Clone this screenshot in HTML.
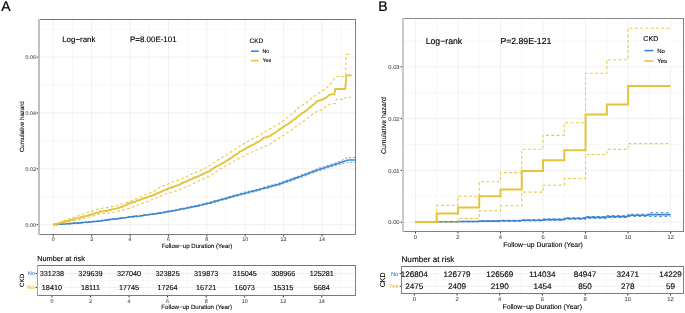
<!DOCTYPE html>
<html><head><meta charset="utf-8"><title>Cumulative hazard</title>
<style>
html,body{margin:0;padding:0;background:#fff;}
body{width:685px;height:313px;overflow:hidden;}
svg{display:block;will-change:transform;font-family:"Liberation Sans", sans-serif;text-rendering:geometricPrecision;}
</style></head><body>
<svg width="685" height="313" viewBox="0 0 685 313">
<rect width="685" height="313" fill="#fff"/>
<line x1="72.49" y1="19.5" x2="72.49" y2="234.5" stroke="#efefef" stroke-width="0.5"/>
<line x1="110.87" y1="19.5" x2="110.87" y2="234.5" stroke="#efefef" stroke-width="0.5"/>
<line x1="149.25" y1="19.5" x2="149.25" y2="234.5" stroke="#efefef" stroke-width="0.5"/>
<line x1="187.63" y1="19.5" x2="187.63" y2="234.5" stroke="#efefef" stroke-width="0.5"/>
<line x1="226.01" y1="19.5" x2="226.01" y2="234.5" stroke="#efefef" stroke-width="0.5"/>
<line x1="264.39" y1="19.5" x2="264.39" y2="234.5" stroke="#efefef" stroke-width="0.5"/>
<line x1="302.77" y1="19.5" x2="302.77" y2="234.5" stroke="#efefef" stroke-width="0.5"/>
<line x1="341.15" y1="19.5" x2="341.15" y2="234.5" stroke="#efefef" stroke-width="0.5"/>
<line x1="39.0" y1="196.77" x2="355.0" y2="196.77" stroke="#efefef" stroke-width="0.5"/>
<line x1="39.0" y1="140.91" x2="355.0" y2="140.91" stroke="#efefef" stroke-width="0.5"/>
<line x1="39.0" y1="85.05" x2="355.0" y2="85.05" stroke="#efefef" stroke-width="0.5"/>
<line x1="39.0" y1="29.19" x2="355.0" y2="29.19" stroke="#efefef" stroke-width="0.5"/>
<line x1="53.30" y1="19.5" x2="53.30" y2="234.5" stroke="#efefef" stroke-width="1"/>
<line x1="91.68" y1="19.5" x2="91.68" y2="234.5" stroke="#efefef" stroke-width="1"/>
<line x1="130.06" y1="19.5" x2="130.06" y2="234.5" stroke="#efefef" stroke-width="1"/>
<line x1="168.44" y1="19.5" x2="168.44" y2="234.5" stroke="#efefef" stroke-width="1"/>
<line x1="206.82" y1="19.5" x2="206.82" y2="234.5" stroke="#efefef" stroke-width="1"/>
<line x1="245.20" y1="19.5" x2="245.20" y2="234.5" stroke="#efefef" stroke-width="1"/>
<line x1="283.58" y1="19.5" x2="283.58" y2="234.5" stroke="#efefef" stroke-width="1"/>
<line x1="321.96" y1="19.5" x2="321.96" y2="234.5" stroke="#efefef" stroke-width="1"/>
<line x1="39.0" y1="224.70" x2="355.0" y2="224.70" stroke="#efefef" stroke-width="1"/>
<line x1="39.0" y1="168.84" x2="355.0" y2="168.84" stroke="#efefef" stroke-width="1"/>
<line x1="39.0" y1="112.98" x2="355.0" y2="112.98" stroke="#efefef" stroke-width="1"/>
<line x1="39.0" y1="57.12" x2="355.0" y2="57.12" stroke="#efefef" stroke-width="1"/>
<g fill="none" stroke-linejoin="miter">
<path d="M53.30,224.60 L54.80,224.50 L56.30,224.66 L57.80,224.08 L59.30,224.46 L60.80,223.97 L62.30,223.93 L63.80,224.07 L65.30,223.72 L66.80,223.70 L68.30,223.28 L69.80,223.61 L71.30,223.36 L72.80,223.11 L74.30,223.26 L75.80,222.85 L77.30,222.81 L78.80,222.50 L80.30,222.53 L81.80,222.29 L83.30,222.20 L84.80,222.37 L86.30,221.94 L87.80,221.90 L89.30,222.05 L90.80,221.88 L92.30,221.58 L93.80,221.32 L95.30,221.01 L96.80,220.78 L98.30,221.11 L99.80,220.69 L101.30,220.25 L102.80,220.35 L104.30,220.24 L105.80,219.94 L107.30,219.92 L108.80,219.19 L110.30,219.28 L111.80,219.04 L113.30,218.60 L114.80,218.74 L116.30,218.66 L117.80,218.31 L119.30,217.90 L120.80,218.05 L122.30,217.65 L123.80,217.45 L125.30,217.39 L126.80,216.86 L128.30,217.09 L129.80,216.83 L131.30,216.72 L132.80,216.18 L134.30,216.38 L135.80,215.83 L137.30,215.59 L138.80,215.88 L140.30,215.70 L141.80,215.50 L143.30,215.04 L144.80,214.70 L146.30,214.33 L147.80,214.49 L149.30,214.32 L150.80,214.18 L152.30,213.63 L153.80,213.37 L155.30,213.41 L156.80,213.29 L158.30,213.17 L159.80,212.47 L161.30,212.39 L162.80,212.35 L164.30,211.79 L165.80,211.60 L167.30,210.98 L168.80,211.08 L170.30,210.94 L171.80,210.60 L173.30,210.35 L174.80,209.93 L176.30,209.40 L177.80,209.43 L179.30,208.81 L180.80,208.88 L182.30,208.12 L183.80,208.27 L185.30,207.56 L186.80,207.38 L188.30,207.04 L189.80,206.96 L191.30,206.34 L192.80,206.16 L194.30,205.62 L195.80,205.47 L197.30,205.26 L198.80,204.76 L200.30,204.75 L201.80,204.19 L203.30,203.99 L204.80,203.55 L206.30,203.01 L207.80,202.86 L209.30,202.32 L210.80,202.02 L212.30,201.33 L213.80,201.05 L215.30,200.44 L216.80,200.51 L218.30,199.65 L219.80,199.26 L221.30,198.72 L222.80,198.39 L224.30,198.26 L225.80,197.79 L227.30,197.01 L228.80,196.72 L230.30,196.32 L231.80,196.03 L233.30,195.47 L234.80,195.11 L236.30,194.83 L237.80,194.32 L239.30,193.67 L240.80,193.31 L242.30,192.87 L243.80,192.33 L245.30,191.99 L246.80,191.65 L248.30,191.28 L249.80,190.89 L251.30,190.65 L252.80,190.50 L254.30,189.99 L255.80,189.61 L257.30,189.20 L258.80,188.71 L260.30,188.51 L261.80,187.95 L263.30,187.42 L264.80,186.74 L266.30,186.57 L267.80,185.98 L269.30,185.51 L270.80,185.32 L272.30,185.06 L273.80,184.35 L275.30,184.21 L276.80,183.65 L278.30,183.00 L279.80,183.07 L281.30,182.19 L282.80,181.57 L284.30,181.35 L285.80,180.36 L287.30,180.17 L288.80,179.29 L290.30,178.85 L291.80,178.20 L293.30,178.01 L294.80,177.18 L296.30,176.98 L297.80,176.21 L299.30,175.70 L300.80,175.03 L302.30,174.34 L303.80,173.83 L305.30,173.60 L306.80,172.59 L308.30,172.50 L309.80,171.80 L311.30,170.99 L312.80,170.60 L314.30,169.88 L315.80,169.32 L317.30,168.83 L318.80,167.97 L320.30,167.71 L321.80,167.52 L323.30,166.62 L324.80,166.42 L326.30,165.79 L327.80,165.31 L329.30,164.83 L330.80,164.35 L332.30,163.87 L333.80,163.39 L335.30,162.91 L336.80,162.43 L338.30,161.94 L339.80,161.46 L341.30,160.71 L342.80,159.91 L344.30,159.11 L345.80,158.31 L347.30,157.51 L348.80,157.40 L350.30,157.40 L351.80,157.40 L353.30,157.40 L354.80,157.40 L355.00,157.40" stroke="#3C84CD" stroke-width="0.9" stroke-dasharray="2.2 1.8" opacity="0.85"/>
<path d="M53.30,224.80 L54.80,224.56 L56.30,224.49 L57.80,224.71 L59.30,224.18 L60.80,224.39 L62.30,224.37 L63.80,223.95 L65.30,223.78 L66.80,223.82 L68.30,223.95 L69.80,223.80 L71.30,223.44 L72.80,223.50 L74.30,223.52 L75.80,223.26 L77.30,223.27 L78.80,223.36 L80.30,223.07 L81.80,222.78 L83.30,222.54 L84.80,222.52 L86.30,222.48 L87.80,222.56 L89.30,222.35 L90.80,221.93 L92.30,222.15 L93.80,221.73 L95.30,221.72 L96.80,221.22 L98.30,221.07 L99.80,220.99 L101.30,221.21 L102.80,220.89 L104.30,220.80 L105.80,220.48 L107.30,220.15 L108.80,220.02 L110.30,219.87 L111.80,219.84 L113.30,219.39 L114.80,219.47 L116.30,219.11 L117.80,219.05 L119.30,218.66 L120.80,218.58 L122.30,218.17 L123.80,218.09 L125.30,217.72 L126.80,217.48 L128.30,217.28 L129.80,217.51 L131.30,217.20 L132.80,217.30 L134.30,217.10 L135.80,216.66 L137.30,216.85 L138.80,216.46 L140.30,216.39 L141.80,215.97 L143.30,215.64 L144.80,215.42 L146.30,215.22 L147.80,215.27 L149.30,214.77 L150.80,214.51 L152.30,214.80 L153.80,214.15 L155.30,214.16 L156.80,213.98 L158.30,213.85 L159.80,213.58 L161.30,213.58 L162.80,213.20 L164.30,212.82 L165.80,212.58 L167.30,212.24 L168.80,212.24 L170.30,211.53 L171.80,211.54 L173.30,211.19 L174.80,210.61 L176.30,210.49 L177.80,210.60 L179.30,210.25 L180.80,209.50 L182.30,209.38 L183.80,208.91 L185.30,209.11 L186.80,208.39 L188.30,208.07 L189.80,208.33 L191.30,207.71 L192.80,207.35 L194.30,206.89 L195.80,206.80 L197.30,206.50 L198.80,206.30 L200.30,205.68 L201.80,205.37 L203.30,205.02 L204.80,204.77 L206.30,204.29 L207.80,204.09 L209.30,203.50 L210.80,203.49 L212.30,203.13 L213.80,202.20 L215.30,201.90 L216.80,201.72 L218.30,201.45 L219.80,200.64 L221.30,200.30 L222.80,200.04 L224.30,199.75 L225.80,199.47 L227.30,199.03 L228.80,198.56 L230.30,197.70 L231.80,197.83 L233.30,197.19 L234.80,196.46 L236.30,196.14 L237.80,195.94 L239.30,195.38 L240.80,195.02 L242.30,194.86 L243.80,194.50 L245.30,193.95 L246.80,193.73 L248.30,193.12 L249.80,193.09 L251.30,192.49 L252.80,192.33 L254.30,191.41 L255.80,191.53 L257.30,190.97 L258.80,190.68 L260.30,189.99 L261.80,189.80 L263.30,189.24 L264.80,188.73 L266.30,188.26 L267.80,188.40 L269.30,187.85 L270.80,187.17 L272.30,186.80 L273.80,186.52 L275.30,186.32 L276.80,185.50 L278.30,185.61 L279.80,185.19 L281.30,184.25 L282.80,183.94 L284.30,183.24 L285.80,182.90 L287.30,181.99 L288.80,181.69 L290.30,181.22 L291.80,180.70 L293.30,180.20 L294.80,179.78 L296.30,178.85 L297.80,178.26 L299.30,177.86 L300.80,177.43 L302.30,177.12 L303.80,176.42 L305.30,175.89 L306.80,175.48 L308.30,174.51 L309.80,173.96 L311.30,173.51 L312.80,172.89 L314.30,172.56 L315.80,172.19 L317.30,171.16 L318.80,170.84 L320.30,170.40 L321.80,169.83 L323.30,169.62 L324.80,169.05 L326.30,168.44 L327.80,167.98 L329.30,167.51 L330.80,167.05 L332.30,166.58 L333.80,166.12 L335.30,165.65 L336.80,165.19 L338.30,164.73 L339.80,164.26 L341.30,163.87 L342.80,163.49 L344.30,163.11 L345.80,162.73 L347.30,162.35 L348.80,162.30 L350.30,162.30 L351.80,162.30 L353.30,162.30 L354.80,162.30 L355.00,162.30" stroke="#3C84CD" stroke-width="0.9" stroke-dasharray="2.2 1.8" opacity="0.85"/>
<path d="M53.30,224.70 L54.30,224.39 L55.30,224.41 L56.30,224.68 L57.30,224.49 L58.30,224.13 L59.30,224.26 L60.30,224.23 L61.30,223.97 L62.30,224.25 L63.30,223.81 L64.30,223.91 L65.30,223.92 L66.30,223.80 L67.30,223.83 L68.30,223.85 L69.30,223.92 L70.30,223.45 L71.30,223.59 L72.30,223.53 L73.30,223.21 L74.30,222.96 L75.30,223.46 L76.30,222.98 L77.30,222.90 L78.30,223.17 L79.30,222.91 L80.30,222.76 L81.30,222.86 L82.30,222.33 L83.30,222.66 L84.30,222.38 L85.30,222.12 L86.30,222.37 L87.30,222.43 L88.30,221.89 L89.30,222.05 L90.30,221.75 L91.30,221.92 L92.30,221.80 L93.30,221.40 L94.30,221.67 L95.30,221.46 L96.30,221.38 L97.30,221.36 L98.30,221.03 L99.30,221.13 L100.30,221.09 L101.30,220.49 L102.30,220.81 L103.30,220.40 L104.30,220.32 L105.30,219.99 L106.30,220.19 L107.30,219.81 L108.30,220.03 L109.30,219.54 L110.30,219.58 L111.30,219.35 L112.30,219.34 L113.30,218.96 L114.30,218.82 L115.30,219.03 L116.30,218.90 L117.30,218.66 L118.30,218.74 L119.30,218.18 L120.30,218.43 L121.30,217.89 L122.30,218.24 L123.30,217.90 L124.30,217.76 L125.30,217.85 L126.30,217.62 L127.30,217.51 L128.30,216.96 L129.30,217.03 L130.30,216.75 L131.30,216.70 L132.30,216.60 L133.30,216.87 L134.30,216.32 L135.30,216.31 L136.30,216.32 L137.30,216.42 L138.30,216.37 L139.30,216.10 L140.30,215.69 L141.30,215.74 L142.30,215.70 L143.30,215.17 L144.30,215.41 L145.30,215.08 L146.30,215.07 L147.30,214.98 L148.30,214.84 L149.30,214.61 L150.30,214.49 L151.30,214.14 L152.30,214.18 L153.30,213.81 L154.30,213.89 L155.30,213.78 L156.30,213.78 L157.30,213.41 L158.30,213.05 L159.30,213.21 L160.30,212.87 L161.30,213.00 L162.30,212.61 L163.30,212.42 L164.30,212.55 L165.30,212.06 L166.30,211.84 L167.30,211.66 L168.30,211.55 L169.30,211.14 L170.30,211.22 L171.30,211.26 L172.30,210.86 L173.30,210.79 L174.30,210.72 L175.30,210.47 L176.30,210.23 L177.30,210.09 L178.30,209.91 L179.30,209.38 L180.30,209.33 L181.30,209.05 L182.30,208.80 L183.30,208.78 L184.30,208.43 L185.30,208.41 L186.30,208.19 L187.30,207.70 L188.30,207.71 L189.30,207.47 L190.30,207.46 L191.30,206.89 L192.30,206.74 L193.30,206.75 L194.30,206.48 L195.30,206.44 L196.30,206.04 L197.30,205.76 L198.30,206.00 L199.30,205.39 L200.30,205.11 L201.30,204.92 L202.30,204.69 L203.30,204.36 L204.30,204.28 L205.30,204.26 L206.30,203.51 L207.30,203.41 L208.30,203.30 L209.30,203.17 L210.30,202.97 L211.30,202.19 L212.30,202.16 L213.30,202.10 L214.30,201.34 L215.30,201.40 L216.30,200.88 L217.30,200.98 L218.30,200.81 L219.30,200.31 L220.30,199.72 L221.30,199.47 L222.30,199.39 L223.30,199.37 L224.30,198.72 L225.30,198.69 L226.30,198.25 L227.30,197.88 L228.30,197.86 L229.30,197.33 L230.30,197.09 L231.30,197.04 L232.30,196.59 L233.30,196.48 L234.30,196.03 L235.30,195.54 L236.30,195.42 L237.30,195.39 L238.30,194.92 L239.30,194.88 L240.30,194.02 L241.30,193.97 L242.30,193.97 L243.30,193.67 L244.30,193.34 L245.30,193.15 L246.30,193.02 L247.30,192.65 L248.30,192.31 L249.30,192.07 L250.30,191.87 L251.30,191.41 L252.30,191.37 L253.30,191.08 L254.30,190.93 L255.30,190.49 L256.30,189.96 L257.30,190.01 L258.30,189.95 L259.30,189.56 L260.30,189.30 L261.30,188.88 L262.30,188.58 L263.30,188.52 L264.30,187.86 L265.30,188.06 L266.30,187.79 L267.30,187.57 L268.30,186.80 L269.30,186.51 L270.30,186.70 L271.30,186.13 L272.30,185.78 L273.30,185.57 L274.30,185.46 L275.30,184.89 L276.30,184.81 L277.30,184.64 L278.30,184.40 L279.30,183.70 L280.30,183.88 L281.30,183.29 L282.30,182.92 L283.30,182.63 L284.30,182.10 L285.30,182.10 L286.30,181.33 L287.30,181.16 L288.30,180.57 L289.30,180.48 L290.30,180.28 L291.30,179.91 L292.30,179.09 L293.30,179.02 L294.30,178.82 L295.30,178.04 L296.30,177.80 L297.30,177.61 L298.30,177.26 L299.30,176.73 L300.30,176.47 L301.30,176.12 L302.30,175.56 L303.30,175.37 L304.30,174.96 L305.30,174.66 L306.30,174.18 L307.30,173.70 L308.30,173.39 L309.30,173.31 L310.30,172.50 L311.30,172.11 L312.30,171.66 L313.30,171.79 L314.30,171.50 L315.30,170.68 L316.30,170.33 L317.30,169.92 L318.30,169.79 L319.30,169.35 L320.30,169.20 L321.30,168.52 L322.30,168.60 L323.30,168.04 L324.30,167.93 L325.30,167.61 L326.30,167.12 L327.30,166.80 L328.30,166.49 L329.30,166.17 L330.30,165.86 L331.30,165.54 L332.30,165.23 L333.30,164.91 L334.30,164.60 L335.30,164.28 L336.30,163.97 L337.30,163.65 L338.30,163.34 L339.30,163.02 L340.30,162.69 L341.30,162.33 L342.30,161.97 L343.30,161.61 L344.30,161.25 L345.30,160.89 L346.30,160.53 L347.30,160.17 L348.30,160.10 L349.30,160.10 L350.30,160.10 L351.30,160.10 L352.30,160.10 L353.30,160.10 L354.30,160.10 L355.00,160.10" stroke="#3C84CD" stroke-width="1.5"/>
<path d="M53.30,224.70 L54.30,224.51 L55.30,223.96 L56.30,223.78 L57.30,223.05 L58.30,222.89 L59.30,222.42 L60.30,222.22 L61.30,221.60 L62.30,221.51 L63.30,221.01 L64.30,220.78 L65.30,220.24 L66.30,219.85 L67.30,219.62 L68.30,219.32 L69.30,218.71 L70.30,218.59 L71.30,218.25 L72.30,217.62 L73.30,217.47 L74.30,217.18 L75.30,216.95 L76.30,216.51 L77.30,215.97 L78.30,215.79 L79.30,215.46 L80.30,215.14 L81.30,214.99 L82.30,214.42 L83.30,214.04 L84.30,213.84 L85.30,213.55 L86.30,213.33 L87.30,212.85 L88.30,212.39 L89.30,212.31 L90.30,211.79 L91.30,211.53 L92.30,211.11 L93.30,210.66 L94.30,210.52 L95.30,210.21 L96.30,209.63 L97.30,209.40 L98.30,209.02 L99.30,208.61 L100.30,208.34 L101.30,208.49 L102.30,208.31 L103.30,207.96 L104.30,207.95 L105.30,207.52 L106.30,207.72 L107.30,207.42 L108.30,207.38 L109.30,207.02 L110.30,206.88 L111.30,206.64 L112.30,206.66 L113.30,206.21 L114.30,206.01 L115.30,205.96 L116.30,205.71 L117.30,205.28 L118.30,205.01 L119.30,204.98 L120.30,204.44 L121.30,204.21 L122.30,204.07 L123.30,203.75 L124.30,203.13 L125.30,202.73 L126.30,202.67 L127.30,202.27 L128.30,201.77 L129.30,201.54 L130.30,201.00 L131.30,200.82 L132.30,200.32 L133.30,199.96 L134.30,199.29 L135.30,199.08 L136.30,198.54 L137.30,198.16 L138.30,197.67 L139.30,197.35 L140.30,196.91 L141.30,196.52 L142.30,195.89 L143.30,195.55 L144.30,195.08 L145.30,194.80 L146.30,194.43 L147.30,193.88 L148.30,193.69 L149.30,193.21 L150.30,192.81 L151.30,192.44 L152.30,192.17 L153.30,191.63 L154.30,191.02 L155.30,190.54 L156.30,190.04 L157.30,189.17 L158.30,188.63 L159.30,187.81 L160.30,187.12 L161.30,186.84 L162.30,186.18 L163.30,185.79 L164.30,185.37 L165.30,184.99 L166.30,184.75 L167.30,184.29 L168.30,183.86 L169.30,183.35 L170.30,182.70 L171.30,182.46 L172.30,182.20 L173.30,182.00 L174.30,181.44 L175.30,181.17 L176.30,180.93 L177.30,180.38 L178.30,180.19 L179.30,179.78 L180.30,179.38 L181.30,178.97 L182.30,178.46 L183.30,177.86 L184.30,177.72 L185.30,177.30 L186.30,176.80 L187.30,176.16 L188.30,175.82 L189.30,175.42 L190.30,174.69 L191.30,174.54 L192.30,173.82 L193.30,173.72 L194.30,173.00 L195.30,172.85 L196.30,172.12 L197.30,171.80 L198.30,171.48 L199.30,171.10 L200.30,170.52 L201.30,170.04 L202.30,169.34 L203.30,168.95 L204.30,168.27 L205.30,167.96 L206.30,167.37 L207.30,166.68 L208.30,166.31 L209.30,165.50 L210.30,165.28 L211.30,164.53 L212.30,163.74 L213.30,163.21 L214.30,162.62 L215.30,161.91 L216.30,161.36 L217.30,160.52 L218.30,159.83 L219.30,159.20 L220.30,158.53 L221.30,157.99 L222.30,157.48 L223.30,156.90 L224.30,156.19 L225.30,155.63 L226.30,155.08 L227.30,154.34 L228.30,153.49 L229.30,153.08 L230.30,152.21 L231.30,151.81 L232.30,151.28 L233.30,150.42 L234.30,149.94 L235.30,148.91 L236.30,148.63 L237.30,147.65 L238.30,147.26 L239.30,146.38 L240.30,145.78 L241.30,145.07 L242.30,144.43 L243.30,144.12 L244.30,143.52 L245.30,142.67 L246.30,142.27 L247.30,141.52 L248.30,141.18 L249.30,140.27 L250.30,139.88 L251.30,139.49 L252.30,138.84 L253.30,138.39 L254.30,137.93 L255.30,137.38 L256.30,136.92 L257.30,136.17 L258.30,135.93 L259.30,135.26 L260.30,134.88 L261.30,134.19 L262.30,133.59 L263.30,133.07 L264.30,132.12 L265.30,131.82 L266.30,130.97 L267.30,130.58 L268.30,129.73 L269.30,129.21 L270.30,128.49 L271.30,128.19 L272.30,127.43 L273.30,126.94 L274.30,126.51 L275.30,125.78 L276.30,125.43 L277.30,124.72 L278.30,124.33 L279.30,123.70 L280.30,123.18 L281.30,122.35 L282.30,121.47 L283.30,120.84 L284.30,120.28 L285.30,119.55 L286.30,118.56 L287.30,117.85 L288.30,117.13 L289.30,116.55 L290.30,115.59 L291.30,114.85 L292.30,113.74 L293.30,113.00 L294.30,111.81 L295.30,111.14 L296.30,109.95 L297.30,108.88 L298.30,107.98 L299.30,107.29 L300.30,106.20 L301.30,105.66 L302.30,105.39 L303.30,104.60 L304.30,104.12 L305.30,103.51 L306.30,102.81 L307.30,102.06 L308.30,100.79 L309.30,100.00 L310.30,99.16 L311.30,98.53 L312.30,97.82 L313.30,96.81 L314.30,96.12 L315.30,95.45 L316.30,94.77 L317.30,94.21 L318.30,93.50 L319.30,92.91 L320.30,92.04 L321.30,91.39 L322.30,90.62 L323.30,90.25 L324.30,89.58 L325.30,88.92 L326.30,88.06 L327.30,87.38 L328.30,86.52 L329.30,85.24 L330.30,83.96 L331.30,82.68 L332.30,81.40 L333.30,80.09 L334.30,78.74 L335.30,77.60 L336.30,76.95 L337.30,76.50 L338.30,76.50 L339.30,76.50 L340.30,76.50 L341.30,76.50 L342.30,76.50 L343.30,76.50 L344.30,76.50 L345.30,76.50 L346.30,54.40 L347.30,54.40 L348.30,54.40 L349.30,54.40 L350.30,54.40 L351.30,54.40" stroke="#E4CB4C" stroke-width="1.1" stroke-dasharray="2.8 2.3"/>
<path d="M53.30,224.70 L54.30,224.66 L55.30,224.50 L56.30,224.22 L57.30,223.97 L58.30,223.71 L59.30,223.68 L60.30,223.53 L61.30,223.22 L62.30,223.06 L63.30,223.28 L64.30,222.98 L65.30,222.65 L66.30,222.57 L67.30,222.63 L68.30,222.43 L69.30,222.25 L70.30,221.88 L71.30,221.68 L72.30,221.50 L73.30,221.01 L74.30,220.96 L75.30,220.60 L76.30,220.60 L77.30,220.03 L78.30,220.02 L79.30,219.85 L80.30,219.35 L81.30,219.37 L82.30,219.11 L83.30,218.53 L84.30,218.56 L85.30,218.01 L86.30,217.93 L87.30,217.62 L88.30,217.24 L89.30,217.00 L90.30,216.90 L91.30,216.42 L92.30,216.07 L93.30,216.00 L94.30,215.61 L95.30,215.47 L96.30,214.95 L97.30,214.70 L98.30,214.61 L99.30,214.20 L100.30,213.97 L101.30,213.74 L102.30,213.53 L103.30,213.78 L104.30,213.32 L105.30,213.50 L106.30,213.19 L107.30,213.30 L108.30,212.96 L109.30,213.06 L110.30,212.77 L111.30,212.45 L112.30,212.46 L113.30,212.24 L114.30,212.06 L115.30,211.78 L116.30,211.49 L117.30,211.47 L118.30,211.07 L119.30,211.11 L120.30,210.87 L121.30,210.47 L122.30,210.35 L123.30,209.82 L124.30,209.61 L125.30,209.48 L126.30,209.03 L127.30,208.87 L128.30,208.54 L129.30,208.38 L130.30,208.08 L131.30,207.60 L132.30,207.25 L133.30,206.61 L134.30,206.45 L135.30,206.13 L136.30,205.57 L137.30,205.25 L138.30,204.84 L139.30,204.65 L140.30,204.01 L141.30,203.67 L142.30,203.13 L143.30,202.91 L144.30,202.62 L145.30,202.36 L146.30,201.98 L147.30,201.36 L148.30,201.24 L149.30,200.54 L150.30,200.42 L151.30,199.77 L152.30,199.49 L153.30,198.98 L154.30,198.91 L155.30,198.50 L156.30,197.78 L157.30,197.50 L158.30,196.95 L159.30,196.60 L160.30,196.21 L161.30,195.66 L162.30,195.59 L163.30,194.99 L164.30,194.69 L165.30,194.16 L166.30,193.77 L167.30,193.48 L168.30,193.17 L169.30,193.03 L170.30,192.66 L171.30,192.19 L172.30,191.87 L173.30,191.64 L174.30,191.41 L175.30,190.89 L176.30,190.76 L177.30,190.30 L178.30,190.06 L179.30,189.81 L180.30,189.38 L181.30,189.06 L182.30,188.66 L183.30,187.98 L184.30,187.60 L185.30,187.24 L186.30,186.87 L187.30,186.46 L188.30,186.00 L189.30,185.67 L190.30,185.39 L191.30,184.99 L192.30,184.27 L193.30,183.76 L194.30,183.27 L195.30,182.87 L196.30,182.40 L197.30,181.95 L198.30,181.22 L199.30,180.84 L200.30,180.20 L201.30,179.96 L202.30,179.28 L203.30,179.10 L204.30,178.51 L205.30,178.16 L206.30,177.64 L207.30,177.11 L208.30,176.75 L209.30,176.13 L210.30,175.62 L211.30,175.14 L212.30,174.45 L213.30,173.92 L214.30,172.93 L215.30,172.47 L216.30,171.78 L217.30,171.15 L218.30,170.53 L219.30,169.78 L220.30,169.16 L221.30,168.56 L222.30,168.05 L223.30,167.33 L224.30,166.89 L225.30,166.37 L226.30,165.62 L227.30,165.37 L228.30,164.71 L229.30,164.23 L230.30,163.40 L231.30,162.89 L232.30,162.26 L233.30,161.60 L234.30,161.03 L235.30,160.55 L236.30,160.24 L237.30,159.39 L238.30,159.04 L239.30,158.30 L240.30,157.68 L241.30,157.23 L242.30,156.92 L243.30,156.35 L244.30,155.87 L245.30,155.33 L246.30,154.76 L247.30,154.35 L248.30,154.02 L249.30,153.23 L250.30,152.96 L251.30,152.32 L252.30,151.85 L253.30,151.46 L254.30,150.92 L255.30,150.82 L256.30,150.14 L257.30,149.62 L258.30,149.11 L259.30,148.69 L260.30,148.30 L261.30,147.94 L262.30,147.57 L263.30,147.27 L264.30,146.79 L265.30,146.09 L266.30,145.79 L267.30,145.47 L268.30,144.70 L269.30,144.55 L270.30,143.86 L271.30,143.36 L272.30,142.52 L273.30,141.99 L274.30,141.29 L275.30,140.47 L276.30,140.08 L277.30,139.45 L278.30,138.66 L279.30,137.96 L280.30,137.53 L281.30,136.65 L282.30,136.20 L283.30,135.36 L284.30,134.68 L285.30,134.02 L286.30,133.25 L287.30,132.68 L288.30,132.01 L289.30,131.28 L290.30,130.79 L291.30,129.99 L292.30,129.06 L293.30,128.35 L294.30,127.90 L295.30,126.83 L296.30,126.16 L297.30,125.63 L298.30,124.54 L299.30,123.90 L300.30,123.31 L301.30,122.30 L302.30,121.62 L303.30,121.26 L304.30,120.46 L305.30,119.59 L306.30,118.96 L307.30,118.11 L308.30,117.61 L309.30,116.87 L310.30,115.76 L311.30,115.21 L312.30,114.41 L313.30,113.83 L314.30,113.30 L315.30,112.62 L316.30,111.74 L317.30,111.21 L318.30,110.85 L319.30,110.43 L320.30,110.15 L321.30,109.80 L322.30,109.21 L323.30,108.72 L324.30,107.71 L325.30,106.97 L326.30,106.16 L327.30,105.30 L328.30,104.60 L329.30,104.27 L330.30,103.93 L331.30,103.69 L332.30,103.64 L333.30,103.60 L334.30,103.55 L335.30,103.51 L336.30,99.40 L337.30,99.40 L338.30,99.40 L339.30,99.40 L340.30,99.40 L341.30,99.40 L342.30,99.40 L343.30,99.40 L344.30,99.40 L345.30,97.30 L346.30,97.30 L347.30,97.30 L348.30,97.30 L349.30,97.30 L350.30,97.30 L351.30,97.30 L351.50,97.30" stroke="#E4CB4C" stroke-width="1.1" stroke-dasharray="2.8 2.3"/>
<path d="M53.30,224.70 L54.30,224.46 L55.30,224.06 L56.30,223.82 L57.30,223.56 L58.30,223.72 L59.30,223.21 L60.30,222.98 L61.30,222.47 L62.30,222.45 L63.30,221.80 L64.30,221.49 L65.30,221.78 L66.30,220.93 L67.30,221.35 L68.30,220.98 L69.30,220.68 L70.30,219.90 L71.30,219.75 L72.30,219.93 L73.30,219.37 L74.30,219.24 L75.30,218.62 L76.30,218.40 L77.30,218.35 L78.30,218.27 L79.30,217.85 L80.30,217.28 L81.30,217.54 L82.30,216.77 L83.30,216.71 L84.30,216.55 L85.30,216.08 L86.30,215.85 L87.30,215.88 L88.30,215.28 L89.30,215.04 L90.30,215.04 L91.30,214.25 L92.30,214.39 L93.30,213.71 L94.30,213.38 L95.30,213.48 L96.30,212.61 L97.30,212.87 L98.30,212.54 L99.30,212.29 L100.30,211.44 L101.30,211.40 L102.30,211.60 L103.30,211.19 L104.30,210.72 L105.30,211.03 L106.30,210.94 L107.30,210.89 L108.30,210.14 L109.30,210.05 L110.30,210.26 L111.30,209.46 L112.30,209.32 L113.30,209.18 L114.30,208.88 L115.30,208.70 L116.30,208.66 L117.30,208.22 L118.30,207.97 L119.30,207.65 L120.30,207.07 L121.30,206.79 L122.30,206.73 L123.30,206.23 L124.30,205.70 L125.30,205.10 L126.30,204.94 L127.30,204.37 L128.30,203.81 L129.30,203.50 L130.30,202.88 L131.30,202.78 L132.30,202.24 L133.30,202.21 L134.30,201.88 L135.30,201.64 L136.30,201.17 L137.30,200.26 L138.30,200.37 L139.30,200.07 L140.30,199.76 L141.30,199.15 L142.30,198.80 L143.30,198.50 L144.30,197.90 L145.30,198.12 L146.30,197.80 L147.30,196.95 L148.30,197.10 L149.30,196.23 L150.30,195.81 L151.30,195.92 L152.30,195.64 L153.30,194.87 L154.30,195.06 L155.30,194.29 L156.30,193.70 L157.30,193.33 L158.30,192.74 L159.30,192.76 L160.30,191.96 L161.30,191.80 L162.30,191.19 L163.30,190.50 L164.30,190.38 L165.30,190.21 L166.30,189.26 L167.30,189.40 L168.30,188.41 L169.30,188.33 L170.30,187.66 L171.30,187.87 L172.30,187.18 L173.30,187.04 L174.30,186.55 L175.30,186.00 L176.30,185.50 L177.30,185.56 L178.30,185.20 L179.30,184.76 L180.30,184.37 L181.30,183.37 L182.30,183.02 L183.30,182.79 L184.30,181.98 L185.30,181.87 L186.30,181.65 L187.30,180.77 L188.30,180.53 L189.30,179.72 L190.30,179.68 L191.30,179.33 L192.30,178.85 L193.30,178.17 L194.30,177.69 L195.30,177.08 L196.30,177.20 L197.30,176.82 L198.30,176.15 L199.30,175.88 L200.30,175.07 L201.30,174.99 L202.30,174.19 L203.30,174.08 L204.30,173.12 L205.30,172.93 L206.30,172.38 L207.30,171.79 L208.30,171.50 L209.30,171.51 L210.30,170.52 L211.30,169.59 L212.30,169.18 L213.30,168.45 L214.30,167.35 L215.30,167.05 L216.30,166.41 L217.30,165.82 L218.30,165.59 L219.30,165.05 L220.30,164.40 L221.30,163.57 L222.30,163.18 L223.30,162.67 L224.30,162.28 L225.30,161.73 L226.30,160.54 L227.30,160.28 L228.30,159.99 L229.30,159.06 L230.30,158.67 L231.30,157.61 L232.30,157.37 L233.30,156.20 L234.30,155.57 L235.30,154.87 L236.30,154.10 L237.30,153.78 L238.30,153.21 L239.30,152.04 L240.30,151.42 L241.30,151.00 L242.30,150.37 L243.30,150.05 L244.30,149.12 L245.30,148.89 L246.30,148.27 L247.30,147.44 L248.30,147.12 L249.30,146.50 L250.30,145.74 L251.30,145.38 L252.30,145.06 L253.30,144.68 L254.30,144.19 L255.30,143.50 L256.30,142.73 L257.30,142.01 L258.30,141.85 L259.30,141.23 L260.30,140.83 L261.30,139.65 L262.30,139.18 L263.30,138.04 L264.30,137.57 L265.30,137.32 L266.30,137.25 L267.30,136.59 L268.30,136.45 L269.30,136.37 L270.30,135.92 L271.30,134.96 L272.30,134.14 L273.30,133.79 L274.30,133.28 L275.30,132.51 L276.30,131.98 L277.30,130.95 L278.30,130.36 L279.30,129.61 L280.30,128.86 L281.30,128.36 L282.30,127.81 L283.30,126.75 L284.30,126.44 L285.30,125.42 L286.30,124.84 L287.30,124.57 L288.30,123.83 L289.30,123.14 L290.30,122.29 L291.30,121.45 L292.30,120.76 L293.30,120.02 L294.30,119.46 L295.30,118.62 L296.30,117.92 L297.30,116.85 L298.30,116.29 L299.30,115.61 L300.30,114.72 L301.30,113.87 L302.30,112.97 L303.30,112.66 L304.30,112.01 L305.30,110.79 L306.30,110.55 L307.30,109.85 L308.30,108.58 L309.30,107.81 L310.30,107.40 L311.30,106.36 L312.30,105.21 L313.30,104.73 L314.30,104.06 L315.30,103.17 L316.30,101.88 L317.30,101.05 L318.30,100.72 L319.30,100.52 L320.30,100.40 L321.30,99.93 L322.30,99.53 L323.30,99.29 L324.30,98.58 L325.30,98.04 L326.30,97.70 L327.30,96.70 L328.30,95.70 L329.30,94.91 L330.30,94.61 L331.30,94.40 L332.30,94.40 L333.30,94.40 L334.30,94.40 L335.30,89.00 L336.30,89.00 L337.30,89.00 L338.30,89.00 L339.30,89.00 L340.30,89.00 L341.30,89.00 L342.30,89.00 L343.30,89.00 L344.30,89.00 L345.30,89.00 L346.30,75.40 L347.30,75.40 L348.30,75.40 L349.30,75.40 L350.30,75.40 L351.30,75.40 L351.70,75.40" stroke="#E2C53A" stroke-width="1.9"/>
</g>
<rect x="38" y="19" width="318" height="1" fill="#747474"/>
<rect x="38" y="234" width="318" height="1" fill="#7a7a7a"/>
<rect x="38" y="19" width="2" height="216" fill="#c0c0c0"/>
<rect x="355" y="19" width="1" height="216" fill="#808080"/>
<line x1="36.6" y1="224.70" x2="38" y2="224.70" stroke="#333333" stroke-width="1"/>
<text x="36.00" y="226.60" font-size="5.35" fill="#4d4d4d" stroke="#4d4d4d" stroke-width="0.080" text-anchor="end">0.00</text>
<line x1="36.6" y1="168.84" x2="38" y2="168.84" stroke="#333333" stroke-width="1"/>
<text x="36.00" y="170.74" font-size="5.35" fill="#4d4d4d" stroke="#4d4d4d" stroke-width="0.080" text-anchor="end">0.02</text>
<line x1="36.6" y1="112.98" x2="38" y2="112.98" stroke="#333333" stroke-width="1"/>
<text x="36.00" y="114.88" font-size="5.35" fill="#4d4d4d" stroke="#4d4d4d" stroke-width="0.080" text-anchor="end">0.04</text>
<line x1="36.6" y1="57.12" x2="38" y2="57.12" stroke="#333333" stroke-width="1"/>
<text x="36.00" y="59.02" font-size="5.35" fill="#4d4d4d" stroke="#4d4d4d" stroke-width="0.080" text-anchor="end">0.06</text>
<line x1="53.30" y1="235" x2="53.30" y2="236.4" stroke="#333333" stroke-width="1"/>
<text x="53.30" y="240.75" font-size="5.35" fill="#4d4d4d" stroke="#4d4d4d" stroke-width="0.080" text-anchor="middle">0</text>
<line x1="91.68" y1="235" x2="91.68" y2="236.4" stroke="#333333" stroke-width="1"/>
<text x="91.68" y="240.75" font-size="5.35" fill="#4d4d4d" stroke="#4d4d4d" stroke-width="0.080" text-anchor="middle">2</text>
<line x1="130.06" y1="235" x2="130.06" y2="236.4" stroke="#333333" stroke-width="1"/>
<text x="130.06" y="240.75" font-size="5.35" fill="#4d4d4d" stroke="#4d4d4d" stroke-width="0.080" text-anchor="middle">4</text>
<line x1="168.44" y1="235" x2="168.44" y2="236.4" stroke="#333333" stroke-width="1"/>
<text x="168.44" y="240.75" font-size="5.35" fill="#4d4d4d" stroke="#4d4d4d" stroke-width="0.080" text-anchor="middle">6</text>
<line x1="206.82" y1="235" x2="206.82" y2="236.4" stroke="#333333" stroke-width="1"/>
<text x="206.82" y="240.75" font-size="5.35" fill="#4d4d4d" stroke="#4d4d4d" stroke-width="0.080" text-anchor="middle">8</text>
<line x1="245.20" y1="235" x2="245.20" y2="236.4" stroke="#333333" stroke-width="1"/>
<text x="245.20" y="240.75" font-size="5.35" fill="#4d4d4d" stroke="#4d4d4d" stroke-width="0.080" text-anchor="middle">10</text>
<line x1="283.58" y1="235" x2="283.58" y2="236.4" stroke="#333333" stroke-width="1"/>
<text x="283.58" y="240.75" font-size="5.35" fill="#4d4d4d" stroke="#4d4d4d" stroke-width="0.080" text-anchor="middle">12</text>
<line x1="321.96" y1="235" x2="321.96" y2="236.4" stroke="#333333" stroke-width="1"/>
<text x="321.96" y="240.75" font-size="5.35" fill="#4d4d4d" stroke="#4d4d4d" stroke-width="0.080" text-anchor="middle">14</text>
<text x="197.00" y="247.90" font-size="6.1" fill="#000" stroke="#000" stroke-width="0.091" text-anchor="middle">Follow−up Duration (Year)</text>
<text transform="translate(23.70,126.70) rotate(-90)" font-size="6.1" fill="#000" stroke="#000" stroke-width="0.091" text-anchor="middle">Cumulative hazard</text>
<text x="62.20" y="42.40" font-size="7.95" fill="#000" stroke="#000" stroke-width="0.119">Log−rank</text>
<text x="130.00" y="42.40" font-size="7.95" fill="#000" stroke="#000" stroke-width="0.119">P=8.00E-101</text>
<rect x="247" y="34" width="32" height="32" fill="#fff"/>
<text x="249.50" y="42.90" font-size="6.5" fill="#000" stroke="#000" stroke-width="0.098">CKD</text>
<line x1="251" y1="51.2" x2="258.7" y2="51.2" stroke="#3C84CD" stroke-width="1.6"/>
<line x1="251" y1="60.6" x2="258.7" y2="60.6" stroke="#E2C53A" stroke-width="1.6"/>
<text x="262.40" y="52.90" font-size="5.35" fill="#000" stroke="#000" stroke-width="0.080">No</text>
<text x="262.40" y="62.40" font-size="5.35" fill="#000" stroke="#000" stroke-width="0.080">Yes</text>
<text x="1.20" y="10.50" font-size="14" fill="#000" stroke="#000" stroke-width="0.210">A</text>
<text x="37.20" y="260.50" font-size="7.34" fill="#000" stroke="#000" stroke-width="0.110">Number at risk</text>
<line x1="71.18" y1="265.5" x2="71.18" y2="295.5" stroke="#efefef" stroke-width="0.5"/>
<line x1="109.74" y1="265.5" x2="109.74" y2="295.5" stroke="#efefef" stroke-width="0.5"/>
<line x1="148.30" y1="265.5" x2="148.30" y2="295.5" stroke="#efefef" stroke-width="0.5"/>
<line x1="186.86" y1="265.5" x2="186.86" y2="295.5" stroke="#efefef" stroke-width="0.5"/>
<line x1="225.42" y1="265.5" x2="225.42" y2="295.5" stroke="#efefef" stroke-width="0.5"/>
<line x1="263.98" y1="265.5" x2="263.98" y2="295.5" stroke="#efefef" stroke-width="0.5"/>
<line x1="302.54" y1="265.5" x2="302.54" y2="295.5" stroke="#efefef" stroke-width="0.5"/>
<line x1="341.10" y1="265.5" x2="341.10" y2="295.5" stroke="#efefef" stroke-width="0.5"/>
<line x1="37.5" y1="280.40" x2="355.5" y2="280.40" stroke="#efefef" stroke-width="0.5"/>
<line x1="51.90" y1="265.5" x2="51.90" y2="295.5" stroke="#efefef" stroke-width="1"/>
<line x1="90.46" y1="265.5" x2="90.46" y2="295.5" stroke="#efefef" stroke-width="1"/>
<line x1="129.02" y1="265.5" x2="129.02" y2="295.5" stroke="#efefef" stroke-width="1"/>
<line x1="167.58" y1="265.5" x2="167.58" y2="295.5" stroke="#efefef" stroke-width="1"/>
<line x1="206.14" y1="265.5" x2="206.14" y2="295.5" stroke="#efefef" stroke-width="1"/>
<line x1="244.70" y1="265.5" x2="244.70" y2="295.5" stroke="#efefef" stroke-width="1"/>
<line x1="283.26" y1="265.5" x2="283.26" y2="295.5" stroke="#efefef" stroke-width="1"/>
<line x1="321.82" y1="265.5" x2="321.82" y2="295.5" stroke="#efefef" stroke-width="1"/>
<line x1="37.5" y1="273.40" x2="355.5" y2="273.40" stroke="#efefef" stroke-width="1"/>
<line x1="37.5" y1="287.40" x2="355.5" y2="287.40" stroke="#efefef" stroke-width="1"/>
<rect x="37" y="265" width="319" height="1" fill="#747474"/>
<rect x="37" y="295" width="319" height="1" fill="#7a7a7a"/>
<rect x="37" y="265" width="1" height="31" fill="#a0a0a0"/>
<rect x="355" y="265" width="1" height="31" fill="#808080"/>
<text x="51.90" y="276.10" font-size="7.25" fill="#000" stroke="#000" stroke-width="0.109" text-anchor="middle">331238</text>
<text x="51.90" y="290.10" font-size="7.25" fill="#000" stroke="#000" stroke-width="0.109" text-anchor="middle">18410</text>
<line x1="51.90" y1="296" x2="51.90" y2="297.4" stroke="#333333" stroke-width="1"/>
<text x="51.90" y="302.70" font-size="5.35" fill="#4d4d4d" stroke="#4d4d4d" stroke-width="0.080" text-anchor="middle">0</text>
<text x="90.46" y="276.10" font-size="7.25" fill="#000" stroke="#000" stroke-width="0.109" text-anchor="middle">329639</text>
<text x="90.46" y="290.10" font-size="7.25" fill="#000" stroke="#000" stroke-width="0.109" text-anchor="middle">18111</text>
<line x1="90.46" y1="296" x2="90.46" y2="297.4" stroke="#333333" stroke-width="1"/>
<text x="90.46" y="302.70" font-size="5.35" fill="#4d4d4d" stroke="#4d4d4d" stroke-width="0.080" text-anchor="middle">2</text>
<text x="129.02" y="276.10" font-size="7.25" fill="#000" stroke="#000" stroke-width="0.109" text-anchor="middle">327040</text>
<text x="129.02" y="290.10" font-size="7.25" fill="#000" stroke="#000" stroke-width="0.109" text-anchor="middle">17745</text>
<line x1="129.02" y1="296" x2="129.02" y2="297.4" stroke="#333333" stroke-width="1"/>
<text x="129.02" y="302.70" font-size="5.35" fill="#4d4d4d" stroke="#4d4d4d" stroke-width="0.080" text-anchor="middle">4</text>
<text x="167.58" y="276.10" font-size="7.25" fill="#000" stroke="#000" stroke-width="0.109" text-anchor="middle">323825</text>
<text x="167.58" y="290.10" font-size="7.25" fill="#000" stroke="#000" stroke-width="0.109" text-anchor="middle">17264</text>
<line x1="167.58" y1="296" x2="167.58" y2="297.4" stroke="#333333" stroke-width="1"/>
<text x="167.58" y="302.70" font-size="5.35" fill="#4d4d4d" stroke="#4d4d4d" stroke-width="0.080" text-anchor="middle">6</text>
<text x="206.14" y="276.10" font-size="7.25" fill="#000" stroke="#000" stroke-width="0.109" text-anchor="middle">319873</text>
<text x="206.14" y="290.10" font-size="7.25" fill="#000" stroke="#000" stroke-width="0.109" text-anchor="middle">16721</text>
<line x1="206.14" y1="296" x2="206.14" y2="297.4" stroke="#333333" stroke-width="1"/>
<text x="206.14" y="302.70" font-size="5.35" fill="#4d4d4d" stroke="#4d4d4d" stroke-width="0.080" text-anchor="middle">8</text>
<text x="244.70" y="276.10" font-size="7.25" fill="#000" stroke="#000" stroke-width="0.109" text-anchor="middle">315045</text>
<text x="244.70" y="290.10" font-size="7.25" fill="#000" stroke="#000" stroke-width="0.109" text-anchor="middle">16073</text>
<line x1="244.70" y1="296" x2="244.70" y2="297.4" stroke="#333333" stroke-width="1"/>
<text x="244.70" y="302.70" font-size="5.35" fill="#4d4d4d" stroke="#4d4d4d" stroke-width="0.080" text-anchor="middle">10</text>
<text x="283.26" y="276.10" font-size="7.25" fill="#000" stroke="#000" stroke-width="0.109" text-anchor="middle">308966</text>
<text x="283.26" y="290.10" font-size="7.25" fill="#000" stroke="#000" stroke-width="0.109" text-anchor="middle">15315</text>
<line x1="283.26" y1="296" x2="283.26" y2="297.4" stroke="#333333" stroke-width="1"/>
<text x="283.26" y="302.70" font-size="5.35" fill="#4d4d4d" stroke="#4d4d4d" stroke-width="0.080" text-anchor="middle">12</text>
<text x="321.82" y="276.10" font-size="7.25" fill="#000" stroke="#000" stroke-width="0.109" text-anchor="middle">125281</text>
<text x="321.82" y="290.10" font-size="7.25" fill="#000" stroke="#000" stroke-width="0.109" text-anchor="middle">5684</text>
<line x1="321.82" y1="296" x2="321.82" y2="297.4" stroke="#333333" stroke-width="1"/>
<text x="321.82" y="302.70" font-size="5.35" fill="#4d4d4d" stroke="#4d4d4d" stroke-width="0.080" text-anchor="middle">14</text>
<line x1="35.6" y1="273.4" x2="37" y2="273.4" stroke="#333333" stroke-width="1"/>
<line x1="35.6" y1="287.4" x2="37" y2="287.4" stroke="#333333" stroke-width="1"/>
<text x="34.90" y="275.10" font-size="5.35" fill="#3C84CD" stroke="#3C84CD" stroke-width="0.080" text-anchor="end">No</text>
<text x="34.90" y="289.10" font-size="5.35" fill="#E2C53A" stroke="#E2C53A" stroke-width="0.080" text-anchor="end">Yes</text>
<text transform="translate(24.30,280.40) rotate(-90)" font-size="6.15" fill="#000" stroke="#000" stroke-width="0.092" text-anchor="middle">CKD</text>
<text x="196.70" y="309.40" font-size="6.1" fill="#000" stroke="#000" stroke-width="0.091" text-anchor="middle">Follow−up Duration (Year)</text>
<line x1="436.67" y1="18.5" x2="436.67" y2="231.5" stroke="#efefef" stroke-width="0.5"/>
<line x1="479.21" y1="18.5" x2="479.21" y2="231.5" stroke="#efefef" stroke-width="0.5"/>
<line x1="521.75" y1="18.5" x2="521.75" y2="231.5" stroke="#efefef" stroke-width="0.5"/>
<line x1="564.29" y1="18.5" x2="564.29" y2="231.5" stroke="#efefef" stroke-width="0.5"/>
<line x1="606.83" y1="18.5" x2="606.83" y2="231.5" stroke="#efefef" stroke-width="0.5"/>
<line x1="649.37" y1="18.5" x2="649.37" y2="231.5" stroke="#efefef" stroke-width="0.5"/>
<line x1="404.0" y1="196.30" x2="683.0" y2="196.30" stroke="#efefef" stroke-width="0.5"/>
<line x1="404.0" y1="144.50" x2="683.0" y2="144.50" stroke="#efefef" stroke-width="0.5"/>
<line x1="404.0" y1="92.70" x2="683.0" y2="92.70" stroke="#efefef" stroke-width="0.5"/>
<line x1="404.0" y1="40.90" x2="683.0" y2="40.90" stroke="#efefef" stroke-width="0.5"/>
<line x1="415.40" y1="18.5" x2="415.40" y2="231.5" stroke="#efefef" stroke-width="1"/>
<line x1="457.94" y1="18.5" x2="457.94" y2="231.5" stroke="#efefef" stroke-width="1"/>
<line x1="500.48" y1="18.5" x2="500.48" y2="231.5" stroke="#efefef" stroke-width="1"/>
<line x1="543.02" y1="18.5" x2="543.02" y2="231.5" stroke="#efefef" stroke-width="1"/>
<line x1="585.56" y1="18.5" x2="585.56" y2="231.5" stroke="#efefef" stroke-width="1"/>
<line x1="628.10" y1="18.5" x2="628.10" y2="231.5" stroke="#efefef" stroke-width="1"/>
<line x1="670.64" y1="18.5" x2="670.64" y2="231.5" stroke="#efefef" stroke-width="1"/>
<line x1="404.0" y1="222.20" x2="683.0" y2="222.20" stroke="#efefef" stroke-width="1"/>
<line x1="404.0" y1="170.40" x2="683.0" y2="170.40" stroke="#efefef" stroke-width="1"/>
<line x1="404.0" y1="118.60" x2="683.0" y2="118.60" stroke="#efefef" stroke-width="1"/>
<line x1="404.0" y1="66.80" x2="683.0" y2="66.80" stroke="#efefef" stroke-width="1"/>
<g fill="none" stroke-linejoin="miter">
<path d="M415.40,222.10 H436.67 V221.65 H457.94 V221.25 H479.21 V220.75 H500.48 V220.25 H521.75 V219.75 H543.02 V218.95 H564.29 V217.75 H585.56 V216.55 H606.83 V215.65 H628.10 V214.20 H649.37 V212.70 H670.64" stroke="#3C84CD" stroke-width="1.0" stroke-dasharray="2.6 2.6"/>
<path d="M415.40,222.10 H436.67 V221.95 H457.94 V221.75 H479.21 V221.45 H500.48 V221.15 H521.75 V220.85 H543.02 V220.25 H564.29 V219.25 H585.56 V218.25 H606.83 V217.55 H628.10 V216.40 H649.37 V216.40 H670.64" stroke="#3C84CD" stroke-width="1.0" stroke-dasharray="2.6 2.6"/>
<path d="M415.40,222.10 L416.90,222.10 L418.40,222.10 L419.90,222.10 L421.40,222.10 L422.90,222.10 L424.40,222.10 L425.90,222.10 L427.40,222.10 L428.90,222.10 L430.40,222.10 L431.90,222.10 L433.40,222.10 L434.90,222.10 L436.40,222.10 L437.90,221.80 L439.40,221.80 L440.90,221.80 L442.40,221.80 L443.90,221.80 L445.40,221.80 L446.90,221.80 L448.40,221.80 L449.90,221.80 L451.40,221.80 L452.90,221.80 L454.40,221.80 L455.90,221.80 L457.40,221.80 L458.90,221.50 L460.40,221.50 L461.90,221.50 L463.40,221.50 L464.90,221.50 L466.40,221.50 L467.90,221.50 L469.40,221.50 L470.90,221.50 L472.40,221.50 L473.90,221.50 L475.40,221.50 L476.90,221.50 L478.40,221.50 L479.90,221.10 L481.40,221.10 L482.90,221.10 L484.40,221.10 L485.90,221.10 L487.40,221.10 L488.90,221.10 L490.40,221.10 L491.90,221.10 L493.40,221.10 L494.90,221.10 L496.40,221.10 L497.90,221.10 L499.40,221.10 L500.90,220.70 L502.40,220.70 L503.90,220.70 L505.40,220.70 L506.90,220.70 L508.40,220.70 L509.90,220.70 L511.40,220.70 L512.90,220.70 L514.40,220.70 L515.90,220.70 L517.40,220.70 L518.90,220.70 L520.40,220.70 L521.90,220.30 L523.40,220.30 L524.90,220.30 L526.40,220.30 L527.90,220.30 L529.40,220.30 L530.90,220.30 L532.40,220.30 L533.90,220.30 L535.40,220.30 L536.90,220.30 L538.40,220.30 L539.90,220.30 L541.40,220.30 L542.90,220.30 L544.40,219.60 L545.90,219.60 L547.40,219.60 L548.90,219.60 L550.40,219.60 L551.90,219.60 L553.40,219.60 L554.90,219.60 L556.40,219.60 L557.90,219.60 L559.40,219.60 L560.90,219.60 L562.40,219.60 L563.90,219.60 L565.40,218.50 L566.90,218.50 L568.40,218.50 L569.90,218.50 L571.40,218.50 L572.90,218.50 L574.40,218.50 L575.90,218.50 L577.40,218.50 L578.90,218.50 L580.40,218.50 L581.90,218.50 L583.40,218.50 L584.90,218.50 L586.40,217.40 L587.90,217.40 L589.40,217.40 L590.90,217.40 L592.40,217.40 L593.90,217.40 L595.40,217.40 L596.90,217.40 L598.40,217.40 L599.90,217.40 L601.40,217.40 L602.90,217.40 L604.40,217.40 L605.90,217.40 L607.40,216.60 L608.90,216.60 L610.40,216.60 L611.90,216.60 L613.40,216.60 L614.90,216.60 L616.40,216.60 L617.90,216.60 L619.40,216.60 L620.90,216.60 L622.40,216.60 L623.90,216.60 L625.40,216.60 L626.90,216.60 L628.40,215.30 L629.90,215.30 L631.40,215.30 L632.90,215.30 L634.40,215.30 L635.90,215.30 L637.40,215.30 L638.90,215.30 L640.40,215.30 L641.90,215.30 L643.40,215.30 L644.90,215.30 L646.40,215.30 L647.90,215.30 L649.40,214.60 L650.90,214.60 L652.40,214.60 L653.90,214.60 L655.40,214.60 L656.90,214.60 L658.40,214.60 L659.90,214.60 L661.40,214.60 L662.90,214.60 L664.40,214.60 L665.90,214.60 L667.40,214.60 L668.90,214.60 L670.40,214.60 L670.63,214.60" stroke="#3C84CD" stroke-width="1.6"/>
<path d="M415.40,222.10 H436.67 V205.40 H457.94 V196.30 H479.21 V181.70 H500.48 V172.60 H521.75 V149.20 H543.02 V135.40 H564.29 V122.80 H585.56 V73.30 H606.83 V59.70 H628.10 V28.20 H649.37 V28.20 H670.64" stroke="#E4CB4C" stroke-width="1.1" stroke-dasharray="2.9 2.4"/>
<path d="M415.40,222.10 H436.67 V222.10 H457.94 V218.40 H479.21 V210.90 H500.48 V205.80 H521.75 V192.10 H543.02 V185.20 H564.29 V178.50 H585.56 V154.50 H606.83 V149.40 H628.10 V143.60 H649.37 V143.60 H670.64" stroke="#E4CB4C" stroke-width="1.1" stroke-dasharray="2.9 2.4"/>
<path d="M415.40,222.10 H436.67 V213.60 H457.94 V207.50 H479.21 V196.30 H500.48 V189.50 H521.75 V171.00 H543.02 V160.20 H564.29 V150.30 H585.56 V114.50 H606.83 V104.50 H628.10 V85.90 H649.37 V85.90 H670.64" stroke="#E2C53A" stroke-width="2.0"/>
</g>
<rect x="402" y="18" width="282" height="1" fill="#8a8a8a"/>
<rect x="402" y="231" width="282" height="1" fill="#808080"/>
<rect x="402" y="18" width="2" height="214" fill="#c8c8c8"/>
<rect x="683" y="18" width="1" height="214" fill="#808080"/>
<line x1="400.6" y1="222.20" x2="402" y2="222.20" stroke="#333333" stroke-width="1"/>
<text x="399.60" y="224.30" font-size="5.8" fill="#4d4d4d" stroke="#4d4d4d" stroke-width="0.087" text-anchor="end">0.00</text>
<line x1="400.6" y1="170.40" x2="402" y2="170.40" stroke="#333333" stroke-width="1"/>
<text x="399.60" y="172.50" font-size="5.8" fill="#4d4d4d" stroke="#4d4d4d" stroke-width="0.087" text-anchor="end">0.01</text>
<line x1="400.6" y1="118.60" x2="402" y2="118.60" stroke="#333333" stroke-width="1"/>
<text x="399.60" y="120.70" font-size="5.8" fill="#4d4d4d" stroke="#4d4d4d" stroke-width="0.087" text-anchor="end">0.02</text>
<line x1="400.6" y1="66.80" x2="402" y2="66.80" stroke="#333333" stroke-width="1"/>
<text x="399.60" y="68.90" font-size="5.8" fill="#4d4d4d" stroke="#4d4d4d" stroke-width="0.087" text-anchor="end">0.03</text>
<line x1="415.40" y1="232" x2="415.40" y2="233.5" stroke="#333333" stroke-width="1"/>
<text x="415.40" y="238.80" font-size="5.8" fill="#4d4d4d" stroke="#4d4d4d" stroke-width="0.087" text-anchor="middle">0</text>
<line x1="457.94" y1="232" x2="457.94" y2="233.5" stroke="#333333" stroke-width="1"/>
<text x="457.94" y="238.80" font-size="5.8" fill="#4d4d4d" stroke="#4d4d4d" stroke-width="0.087" text-anchor="middle">2</text>
<line x1="500.48" y1="232" x2="500.48" y2="233.5" stroke="#333333" stroke-width="1"/>
<text x="500.48" y="238.80" font-size="5.8" fill="#4d4d4d" stroke="#4d4d4d" stroke-width="0.087" text-anchor="middle">4</text>
<line x1="543.02" y1="232" x2="543.02" y2="233.5" stroke="#333333" stroke-width="1"/>
<text x="543.02" y="238.80" font-size="5.8" fill="#4d4d4d" stroke="#4d4d4d" stroke-width="0.087" text-anchor="middle">6</text>
<line x1="585.56" y1="232" x2="585.56" y2="233.5" stroke="#333333" stroke-width="1"/>
<text x="585.56" y="238.80" font-size="5.8" fill="#4d4d4d" stroke="#4d4d4d" stroke-width="0.087" text-anchor="middle">8</text>
<line x1="628.10" y1="232" x2="628.10" y2="233.5" stroke="#333333" stroke-width="1"/>
<text x="628.10" y="238.80" font-size="5.8" fill="#4d4d4d" stroke="#4d4d4d" stroke-width="0.087" text-anchor="middle">10</text>
<line x1="670.64" y1="232" x2="670.64" y2="233.5" stroke="#333333" stroke-width="1"/>
<text x="670.64" y="238.80" font-size="5.8" fill="#4d4d4d" stroke="#4d4d4d" stroke-width="0.087" text-anchor="middle">12</text>
<text x="543.00" y="246.80" font-size="6.85" fill="#000" stroke="#000" stroke-width="0.103" text-anchor="middle">Follow−up Duration (Year)</text>
<text transform="translate(385.50,125.60) rotate(-90)" font-size="6.81" fill="#000" stroke="#000" stroke-width="0.102" text-anchor="middle">Cumulative hazard</text>
<text x="425.70" y="43.90" font-size="8.7" fill="#000" stroke="#000" stroke-width="0.130">Log−rank</text>
<text x="500.40" y="43.90" font-size="8.7" fill="#000" stroke="#000" stroke-width="0.130">P=2.89E-121</text>
<rect x="640" y="30" width="32" height="36" fill="#fff"/>
<text x="643.35" y="40.80" font-size="7.1" fill="#000" stroke="#000" stroke-width="0.106">CKD</text>
<line x1="644.5" y1="50.6" x2="653.4" y2="50.6" stroke="#3C84CD" stroke-width="1.6"/>
<line x1="644.5" y1="61" x2="653.4" y2="61" stroke="#E2C53A" stroke-width="1.6"/>
<text x="657.20" y="52.70" font-size="6.0" fill="#000" stroke="#000" stroke-width="0.090">No</text>
<text x="657.20" y="63.10" font-size="6.0" fill="#000" stroke="#000" stroke-width="0.090">Yes</text>
<text x="378.30" y="11.00" font-size="14" fill="#000" stroke="#000" stroke-width="0.210">B</text>
<text x="401.50" y="261.70" font-size="8.15" fill="#000" stroke="#000" stroke-width="0.122">Number at risk</text>
<line x1="435.65" y1="266.5" x2="435.65" y2="293.5" stroke="#efefef" stroke-width="0.5"/>
<line x1="478.35" y1="266.5" x2="478.35" y2="293.5" stroke="#efefef" stroke-width="0.5"/>
<line x1="521.05" y1="266.5" x2="521.05" y2="293.5" stroke="#efefef" stroke-width="0.5"/>
<line x1="563.75" y1="266.5" x2="563.75" y2="293.5" stroke="#efefef" stroke-width="0.5"/>
<line x1="606.45" y1="266.5" x2="606.45" y2="293.5" stroke="#efefef" stroke-width="0.5"/>
<line x1="649.15" y1="266.5" x2="649.15" y2="293.5" stroke="#efefef" stroke-width="0.5"/>
<line x1="401.5" y1="280.00" x2="683.5" y2="280.00" stroke="#efefef" stroke-width="0.5"/>
<line x1="414.30" y1="266.5" x2="414.30" y2="293.5" stroke="#efefef" stroke-width="1"/>
<line x1="457.00" y1="266.5" x2="457.00" y2="293.5" stroke="#efefef" stroke-width="1"/>
<line x1="499.70" y1="266.5" x2="499.70" y2="293.5" stroke="#efefef" stroke-width="1"/>
<line x1="542.40" y1="266.5" x2="542.40" y2="293.5" stroke="#efefef" stroke-width="1"/>
<line x1="585.10" y1="266.5" x2="585.10" y2="293.5" stroke="#efefef" stroke-width="1"/>
<line x1="627.80" y1="266.5" x2="627.80" y2="293.5" stroke="#efefef" stroke-width="1"/>
<line x1="670.50" y1="266.5" x2="670.50" y2="293.5" stroke="#efefef" stroke-width="1"/>
<line x1="401.5" y1="273.70" x2="683.5" y2="273.70" stroke="#efefef" stroke-width="1"/>
<line x1="401.5" y1="286.30" x2="683.5" y2="286.30" stroke="#efefef" stroke-width="1"/>
<rect x="401" y="266" width="283" height="1" fill="#747474"/>
<rect x="401" y="293" width="283" height="1" fill="#7a7a7a"/>
<rect x="401" y="266" width="1" height="28" fill="#808080"/>
<rect x="683" y="266" width="1" height="28" fill="#808080"/>
<text x="414.30" y="276.60" font-size="8.1" fill="#000" stroke="#000" stroke-width="0.121" text-anchor="middle">126804</text>
<text x="414.30" y="289.20" font-size="8.1" fill="#000" stroke="#000" stroke-width="0.121" text-anchor="middle">2475</text>
<line x1="414.30" y1="294" x2="414.30" y2="295.5" stroke="#333333" stroke-width="1"/>
<text x="414.30" y="301.20" font-size="5.8" fill="#4d4d4d" stroke="#4d4d4d" stroke-width="0.087" text-anchor="middle">0</text>
<text x="457.00" y="276.60" font-size="8.1" fill="#000" stroke="#000" stroke-width="0.121" text-anchor="middle">126779</text>
<text x="457.00" y="289.20" font-size="8.1" fill="#000" stroke="#000" stroke-width="0.121" text-anchor="middle">2409</text>
<line x1="457.00" y1="294" x2="457.00" y2="295.5" stroke="#333333" stroke-width="1"/>
<text x="457.00" y="301.20" font-size="5.8" fill="#4d4d4d" stroke="#4d4d4d" stroke-width="0.087" text-anchor="middle">2</text>
<text x="499.70" y="276.60" font-size="8.1" fill="#000" stroke="#000" stroke-width="0.121" text-anchor="middle">126569</text>
<text x="499.70" y="289.20" font-size="8.1" fill="#000" stroke="#000" stroke-width="0.121" text-anchor="middle">2190</text>
<line x1="499.70" y1="294" x2="499.70" y2="295.5" stroke="#333333" stroke-width="1"/>
<text x="499.70" y="301.20" font-size="5.8" fill="#4d4d4d" stroke="#4d4d4d" stroke-width="0.087" text-anchor="middle">4</text>
<text x="542.40" y="276.60" font-size="8.1" fill="#000" stroke="#000" stroke-width="0.121" text-anchor="middle">114034</text>
<text x="542.40" y="289.20" font-size="8.1" fill="#000" stroke="#000" stroke-width="0.121" text-anchor="middle">1454</text>
<line x1="542.40" y1="294" x2="542.40" y2="295.5" stroke="#333333" stroke-width="1"/>
<text x="542.40" y="301.20" font-size="5.8" fill="#4d4d4d" stroke="#4d4d4d" stroke-width="0.087" text-anchor="middle">6</text>
<text x="585.10" y="276.60" font-size="8.1" fill="#000" stroke="#000" stroke-width="0.121" text-anchor="middle">84947</text>
<text x="585.10" y="289.20" font-size="8.1" fill="#000" stroke="#000" stroke-width="0.121" text-anchor="middle">850</text>
<line x1="585.10" y1="294" x2="585.10" y2="295.5" stroke="#333333" stroke-width="1"/>
<text x="585.10" y="301.20" font-size="5.8" fill="#4d4d4d" stroke="#4d4d4d" stroke-width="0.087" text-anchor="middle">8</text>
<text x="627.80" y="276.60" font-size="8.1" fill="#000" stroke="#000" stroke-width="0.121" text-anchor="middle">32471</text>
<text x="627.80" y="289.20" font-size="8.1" fill="#000" stroke="#000" stroke-width="0.121" text-anchor="middle">278</text>
<line x1="627.80" y1="294" x2="627.80" y2="295.5" stroke="#333333" stroke-width="1"/>
<text x="627.80" y="301.20" font-size="5.8" fill="#4d4d4d" stroke="#4d4d4d" stroke-width="0.087" text-anchor="middle">10</text>
<text x="670.50" y="276.60" font-size="8.1" fill="#000" stroke="#000" stroke-width="0.121" text-anchor="middle">14229</text>
<text x="670.50" y="289.20" font-size="8.1" fill="#000" stroke="#000" stroke-width="0.121" text-anchor="middle">59</text>
<line x1="670.50" y1="294" x2="670.50" y2="295.5" stroke="#333333" stroke-width="1"/>
<text x="670.50" y="301.20" font-size="5.8" fill="#4d4d4d" stroke="#4d4d4d" stroke-width="0.087" text-anchor="middle">12</text>
<line x1="399.6" y1="273.7" x2="401" y2="273.7" stroke="#333333" stroke-width="1"/>
<line x1="399.6" y1="286.3" x2="401" y2="286.3" stroke="#333333" stroke-width="1"/>
<text x="398.30" y="275.75" font-size="5.8" fill="#3C84CD" stroke="#3C84CD" stroke-width="0.087" text-anchor="end">No</text>
<text x="398.30" y="288.35" font-size="5.8" fill="#E2C53A" stroke="#E2C53A" stroke-width="0.087" text-anchor="end">Yes</text>
<text transform="translate(385.20,279.80) rotate(-90)" font-size="7.15" fill="#000" stroke="#000" stroke-width="0.107" text-anchor="middle">CKD</text>
<text x="542.20" y="308.70" font-size="6.85" fill="#000" stroke="#000" stroke-width="0.103" text-anchor="middle">Follow−up Duration (Year)</text>
</svg>
</body></html>
